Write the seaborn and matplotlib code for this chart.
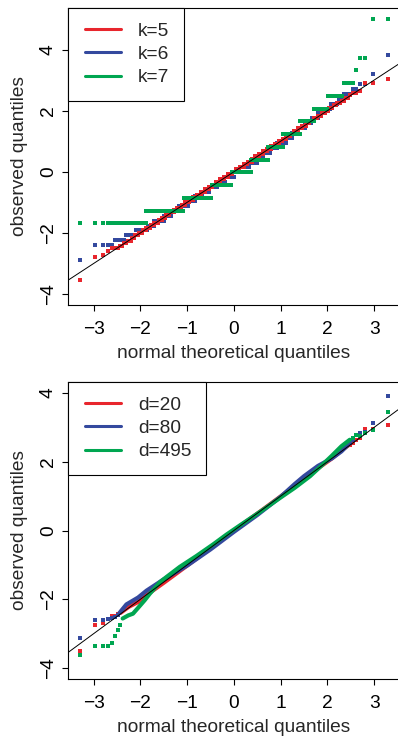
import numpy as np
import pandas as pd
import matplotlib
matplotlib.use("Agg")
import matplotlib.pyplot as plt
from matplotlib.lines import Line2D
from matplotlib.legend_handler import HandlerLine2D
import seaborn as sns
from statistics import NormalDist

sns.set_style("white")
plt.rcParams['font.family'] = ['Liberation Sans', 'DejaVu Sans']

RED = '#E8262D'
BLUE = '#34499E'
GREEN = '#00A651'
FS = 13.8

# ---- top panel: discrete observed levels, and the theoretical quantile where each next level starts
n_obs = 1000

k5_levels = [-3.54, -2.80, -2.72, -2.58, -2.50, -2.42, -2.33, -2.25, -2.17, -2.08, -2.00, -1.92,
             -1.83, -1.75, -1.67, -1.58, -1.50, -1.42, -1.33, -1.25, -1.17, -1.08, -1.00, -0.92,
             -0.83, -0.75, -0.67, -0.58, -0.50, -0.42, -0.33, -0.25, -0.17, -0.08, 0.00, 0.08,
             0.17, 0.25, 0.33, 0.42, 0.50, 0.58, 0.67, 0.75, 0.83, 0.92, 1.00, 1.08,
             1.17, 1.25, 1.33, 1.42, 1.50, 1.58, 1.67, 1.75, 1.83, 1.92, 2.00, 2.08,
             2.17, 2.25, 2.33, 2.42, 2.50, 2.58, 2.65, 2.92, 3.03]
k5_breaks = [-3.1, -2.9, -2.75, -2.62, -2.46, -2.38, -2.29, -2.21, -2.12, -2.04, -1.96, -1.88,
             -1.79, -1.71, -1.62, -1.54, -1.46, -1.38, -1.29, -1.21, -1.12, -1.04, -0.96, -0.88,
             -0.79, -0.71, -0.62, -0.54, -0.46, -0.38, -0.29, -0.21, -0.12, -0.04, 0.04, 0.12,
             0.21, 0.29, 0.38, 0.46, 0.54, 0.62, 0.71, 0.79, 0.88, 0.96, 1.04, 1.12,
             1.21, 1.29, 1.38, 1.46, 1.54, 1.62, 1.71, 1.79, 1.88, 1.96, 2.04, 2.12,
             2.21, 2.29, 2.38, 2.46, 2.54, 2.66, 2.75, 3.1]

k6_levels = [-2.89, -2.40, -2.23, -2.07, -1.91, -1.77, -1.60, -1.45, -1.27, -1.12, -0.95, -0.80,
             -0.66, -0.50, -0.34, -0.18, -0.02, 0.14, 0.30, 0.47, 0.62, 0.78, 0.94, 1.10,
             1.27, 1.43, 1.59, 1.75, 1.91, 2.06, 2.21, 2.38, 2.54, 2.70, 2.87, 3.19, 3.81]
k6_breaks = [-3.1, -2.58, -2.32, -2.10, -1.85, -1.71, -1.50, -1.35, -1.18, -0.98, -0.83, -0.68,
             -0.53, -0.37, -0.20, 0.0, 0.15, 0.315, 0.49, 0.625, 0.775, 0.925, 1.11, 1.24,
             1.38, 1.52, 1.66, 1.80, 1.94, 2.07, 2.22, 2.345, 2.51, 2.65, 2.9, 3.1]

k7_levels = [-1.67, -1.27, -0.85, -0.42, -0.02, 0.38, 0.82, 1.23, 1.67, 2.05, 2.47, 2.90,
             3.32, 3.72, 4.99]
k7_breaks = [-1.88, -1.08, -0.48, -0.05, 0.37, 0.735, 1.055, 1.41, 1.72, 2.0, 2.31, 2.58,
             2.65, 2.9]

# ---- bottom panel: isolated tail points + the dense central band
tail_x = [-3.29, -2.97, -2.81, -2.70, -2.61, -2.54, -2.48, 2.48, 2.54, 2.61, 2.70, 2.81, 2.97, 3.29]
d20_tail_y = [-3.50, -2.74, -2.68, -2.56, -2.50, -2.48, -2.42, 2.50, 2.55, 2.62, 2.69, 2.94, 2.95, 3.08]
d80_tail_y = [-3.14, -2.59, -2.59, -2.56, -2.55, -2.52, -2.47, 2.55, 2.62, 2.77, 2.84, 2.86, 3.13, 3.92]
d495_tail_x = [-3.29, -2.97, -2.81, -2.70, -2.61, -2.54, -2.48, -2.43, 2.54, 2.61, 2.70, 2.81, 2.97, 3.29]
d495_tail_y = [-3.63, -3.37, -3.37, -3.35, -3.27, -3.07, -2.88, -2.76, 2.68, 2.79, 2.75, 2.84, 2.92, 3.45]

d20_band_x = [-2.43, -2.25, -2.05, -1.8, -1.5, -1.0, -0.5, 0.0, 0.5, 1.0, 1.5, 1.8, 2.1, 2.3, 2.45]
d20_band_y = [-2.40, -2.22, -2.08, -1.81, -1.52, -1.02, -0.51, 0.0, 0.49, 0.99, 1.50, 1.81, 2.10, 2.33, 2.48]
d80_band_x = [-2.45, -2.3, -2.05, -1.87, -1.5, -1.0, -0.5, 0.0, 0.5, 1.0, 1.3, 1.5, 1.8, 2.1, 2.3, 2.45]
d80_band_y = [-2.40, -2.15, -1.95, -1.75, -1.42, -1.02, -0.55, -0.04, 0.45, 0.98, 1.35, 1.58, 1.88, 2.10, 2.30, 2.50]
d495_band_x = [-2.38, -2.26, -2.16, -2.05, -1.91, -1.80, -1.69, -1.58, -1.44, -1.16, -0.80, -0.44,
               -0.16, 0.13, 0.6, 1.0, 1.3, 1.63, 1.9, 2.1, 2.3, 2.48]
d495_band_y = [-2.56, -2.47, -2.42, -2.25, -2.03, -1.84, -1.67, -1.50, -1.35, -1.06, -0.74, -0.40,
               -0.12, 0.15, 0.58, 0.96, 1.24, 1.58, 1.92, 2.18, 2.45, 2.64]

XTICKS = [-3, -2, -1, 0, 1, 2, 3]
YTICKS = [-4, -2, 0, 2, 4]

# theoretical normal quantiles of a sample of n_obs
theo = np.array([NormalDist().inv_cdf((i - 0.5) / n_obs) for i in range(1, n_obs + 1)])


def discrete_qq(levels, breaks):
    idx = np.searchsorted(np.array(breaks), theo, side='right')
    return pd.DataFrame({'x': theo, 'y': np.array(levels)[idx]})


def style_axes(ax, ylim):
    ax.set_xlim(-3.55, 3.55)
    ax.set_ylim(*ylim)
    ax.set_xticks(XTICKS)
    ax.set_yticks(YTICKS)
    ax.set_xticklabels([str(t).replace('-', '\u2212') for t in XTICKS])
    ax.set_yticklabels([str(t).replace('-', '\u2212') for t in YTICKS])
    for sp in ax.spines.values():
        sp.set_color('black')
        sp.set_linewidth(0.8)
    ax.tick_params(axis='both', direction='out', length=4, width=0.8, labelsize=FS,
                   bottom=True, left=True, colors='black')
    ax.tick_params(axis='x', pad=7.5)
    ax.tick_params(axis='y', pad=4.0, labelrotation=90)
    for lab in ax.get_yticklabels():
        lab.set_va('center')
    ax.set_xlabel('normal theoretical quantiles', fontsize=FS, labelpad=5)
    ax.set_ylabel('observed quantiles', fontsize=FS, labelpad=8.5)
    ax.axline((0, 0), slope=1, color='black', lw=0.7, zorder=5)


def add_legend(ax, labels):
    handles = [Line2D([], [], color=c, lw=2.2) for c in (RED, BLUE, GREEN)]
    leg = ax.legend(handles, labels, loc='upper left', bbox_to_anchor=(0, 1), borderaxespad=0,
                    fancybox=False, framealpha=1, edgecolor='black', fontsize=FS,
                    handlelength=2.01, handletextpad=0.885, borderpad=0.75, labelspacing=0.305,
                    handler_map={Line2D: HandlerLine2D(xpad=0.135)})
    leg.get_frame().set_linewidth(0.8)
    leg.set_zorder(10)


fig = plt.figure(figsize=(3.98, 7.39), dpi=100)
ax1 = fig.add_axes([68 / 398, 1 - 305 / 739, 331.8 / 398, 297 / 739])
ax2 = fig.add_axes([68 / 398, 1 - 679 / 739, 331.8 / 398, 297 / 739])

# top panel
for levels, breaks, col in [(k6_levels, k6_breaks, BLUE), (k5_levels, k5_breaks, RED),
                            (k7_levels, k7_breaks, GREEN)]:
    df = discrete_qq(levels, breaks)
    sns.scatterplot(data=df, x='x', y='y', ax=ax1, color=col, marker='s', s=6.5,
                    linewidth=0, legend=False)
style_axes(ax1, (-4.36, 5.36))
add_legend(ax1, ['k=5', 'k=6', 'k=7'])

# bottom panel
for bx, by, tx, ty, col in [(d20_band_x, d20_band_y, tail_x, d20_tail_y, RED),
                            (d80_band_x, d80_band_y, tail_x, d80_tail_y, BLUE),
                            (d495_band_x, d495_band_y, d495_tail_x, d495_tail_y, GREEN)]:
    band = pd.DataFrame({'x': bx, 'y': by})
    sns.lineplot(data=band, x='x', y='y', ax=ax2, color=col, lw=3.0, sort=False,
                 estimator=None, legend=False)
    tails = pd.DataFrame({'x': tx, 'y': ty})
    sns.scatterplot(data=tails, x='x', y='y', ax=ax2, color=col, marker='s', s=6.5,
                    linewidth=0, legend=False)
style_axes(ax2, (-4.32, 4.32))
add_legend(ax2, ['d=20', 'd=80', 'd=495'])

fig.savefig('out.png', dpi=100)
